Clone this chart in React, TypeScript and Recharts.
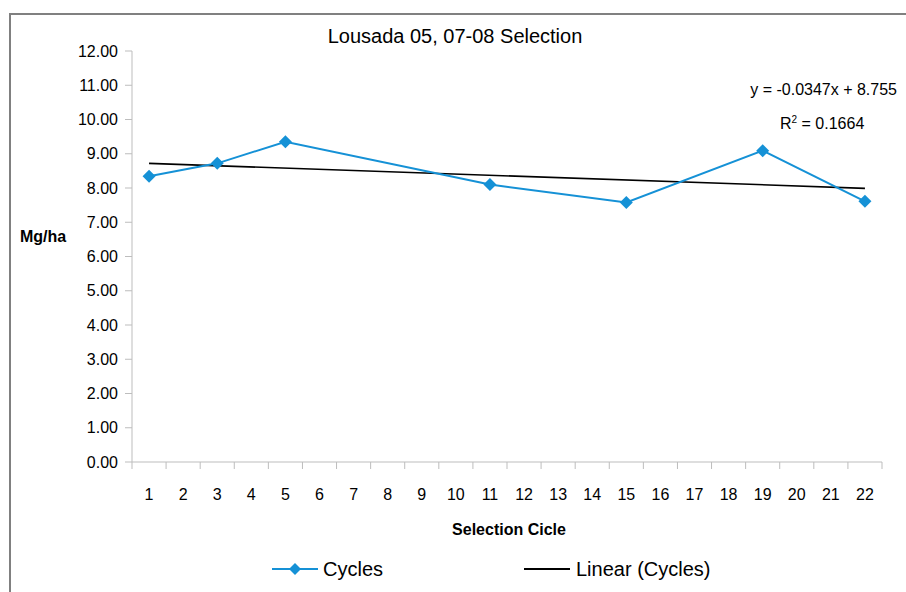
import React from 'react';
import { LineChart, Line, XAxis, YAxis } from 'recharts';

// Selection cycles on the category axis
const cycles = [1, 2, 3, 4, 5, 6, 7, 8, 9, 10, 11, 12, 13, 14, 15, 16, 17, 18, 19, 20, 21, 22];

// Yield (Mg/ha) measured per cycle, blanks where there is no selection
const cycleValues: (number | null)[] = [
  8.34, null, 8.72, null, 9.35, null, null, null, null, null, 8.10,
  null, null, null, 7.58, null, null, null, 9.09, null, null, 7.61,
];

// Linear trend endpoints (first and last category)
const trendValues: (number | null)[] = [
  8.72, null, null, null, null, null, null, null, null, null, null,
  null, null, null, null, null, null, null, null, null, null, 7.99,
];

const yTicks = [0, 1, 2, 3, 4, 5, 6, 7, 8, 9, 10, 11, 12];

const data = cycles.map((c, i) => ({
  cycle: c,
  cycles: cycleValues[i],
  linear: trendValues[i],
}));

const W = 906;
const H = 592;
const X_AXIS_H = 30;
const M = { top: 51, right: 24, bottom: 130 - X_AXIS_H, left: 0 };
const Y_AXIS_W = 132;
const BAND = (W - M.right - Y_AXIS_W) / cycles.length;

const BLUE = '#1591d6';
const AXIS = '#bdbdbd';
const FONT = '"Liberation Sans", Arial, sans-serif';

const Diamond = ({ cx, cy, r = 6.5, fill = BLUE }: any) => (
  <path d={`M${cx},${cy - r} L${cx + r},${cy} L${cx},${cy + r} L${cx - r},${cy} Z`} fill={fill} />
);

const renderDot = (props: any) => {
  const { cx, cy, index } = props;
  if (cx == null || cy == null || props.value == null) return <g key={`d${index}`} />;
  return <Diamond key={`d${index}`} cx={cx} cy={cy} />;
};

// Excel style ticks: lines between categories, labels under each category
const XTick = (props: any) => {
  const { x, y, payload, index } = props;
  const left = x - BAND / 2;
  return (
    <g>
      <line x1={left} y1={y} x2={left} y2={y + 7} stroke={AXIS} strokeWidth={1} />
      {index === cycles.length - 1 && (
        <line x1={x + BAND / 2} y1={y} x2={x + BAND / 2} y2={y + 7} stroke={AXIS} strokeWidth={1} />
      )}
      <text x={x} y={y + 38} textAnchor="middle" fontSize={16} fontFamily={FONT} fill="#000">
        {payload.value}
      </text>
    </g>
  );
};

const App = () => {
  return (
    <div style={{ position: 'absolute', left: 0, top: 0, width: W, height: H, overflow: 'hidden', background: '#fff', fontFamily: FONT }}>
      {/* outer frame */}
      <div style={{ position: 'absolute', left: 9, top: 13, width: 940, height: 640, border: '2px solid #808080' }} />

      <LineChart width={W} height={H} data={data} margin={M} style={{ position: 'absolute', left: 0, top: 0 }}>
        <XAxis
          dataKey="cycle"
          type="category"
          scale="band"
          height={X_AXIS_H}
          interval={0}
          stroke={AXIS}
          tickLine={false}
          tickSize={0}
          tickMargin={0}
          tick={<XTick />}
        />
        <YAxis
          width={Y_AXIS_W}
          domain={[0, 12]}
          ticks={yTicks}
          interval={0}
          stroke={AXIS}
          tickSize={7}
          tickMargin={7}
          tick={{ fill: '#000', fontSize: 16, fontFamily: FONT }}
          tickFormatter={(v: number) => v.toFixed(2)}
        />
        <Line
          type="linear"
          dataKey="linear"
          stroke="#000"
          strokeWidth={1.6}
          dot={false}
          connectNulls
          isAnimationActive={false}
        />
        <Line
          type="linear"
          dataKey="cycles"
          stroke={BLUE}
          strokeWidth={2}
          dot={renderDot}
          activeDot={false}
          connectNulls
          isAnimationActive={false}
        />
      </LineChart>

      {/* title */}
      <div style={{ position: 'absolute', left: 2, top: 24, width: W, textAlign: 'center', fontSize: 20, lineHeight: '24px' }}>
        Lousada 05, 07-08 Selection
      </div>

      {/* axis titles */}
      <div style={{ position: 'absolute', left: 20, top: 228, fontSize: 16, fontWeight: 'bold', lineHeight: '18px' }}>
        Mg/ha
      </div>
      <div style={{ position: 'absolute', left: 309, top: 521, width: 400, textAlign: 'center', fontSize: 16, fontWeight: 'bold', lineHeight: '18px' }}>
        Selection Cicle
      </div>

      {/* trend equation */}
      <div style={{ position: 'absolute', left: 650, top: 81, width: 247, textAlign: 'right', fontSize: 16, lineHeight: '18px' }}>
        y = -0.0347x + 8.755
      </div>
      <div style={{ position: 'absolute', left: 780, top: 115, fontSize: 16, lineHeight: '18px' }}>
        R<sup style={{ fontSize: 10, verticalAlign: 'top', position: 'relative', top: -4 }}>2</sup> = 0.1664
      </div>

      {/* legend */}
      <div style={{ position: 'absolute', left: 272, top: 552, height: 34, display: 'flex', alignItems: 'center', fontSize: 20 }}>
        <svg width={46} height={14}>
          <line x1={0} y1={7} x2={46} y2={7} stroke={BLUE} strokeWidth={2} />
          <Diamond cx={23} cy={7} r={6} />
        </svg>
        <span style={{ marginLeft: 5 }}>Cycles</span>
      </div>
      <div style={{ position: 'absolute', left: 524, top: 552, height: 34, display: 'flex', alignItems: 'center', fontSize: 20 }}>
        <svg width={46} height={14}>
          <line x1={0} y1={7} x2={46} y2={7} stroke="#000" strokeWidth={2} />
        </svg>
        <span style={{ marginLeft: 6 }}>Linear (Cycles)</span>
      </div>
    </div>
  );
};

export default App;
